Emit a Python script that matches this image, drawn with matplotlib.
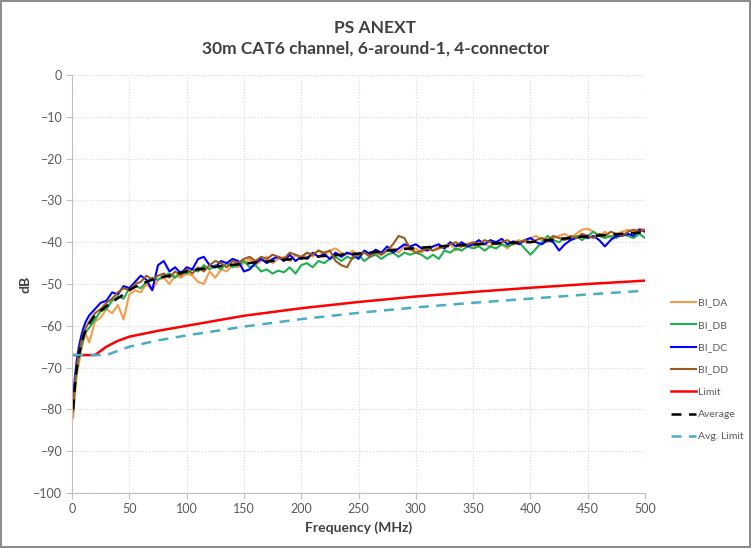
import numpy as np
import matplotlib.pyplot as plt

plt.rcParams['font.family'] = ['Lato', 'DejaVu Sans']

# frequency points (MHz)
freq = [1, 2, 3, 4, 6, 8, 10, 12, 15] + list(range(20, 501, 5))

bi_da = [-82, -78, -75, -72, -69, -66, -63.5, -62, -64, -59, -58, -56, -57, -55, -58.5, -52.5,
         -51.5, -52, -50, -51.5, -49, -48.5, -50, -48, -48.5, -47.5, -48, -49.5, -50, -47,
         -48.5, -46.5, -47, -45.5, -46, -45, -44, -45.5, -44.5, -43.5, -45, -44, -43.5, -44.5,
         -43, -44, -42.5, -43.5, -42, -43, -42, -41.5, -42.5, -43, -42, -43.5, -42.5, -43, -42,
         -43, -42, -41.5, -42.5, -41, -42, -41.5, -42.5, -41.5, -42, -41, -41.5, -40.5, -42,
         -41, -40.5, -41, -40, -40.5, -41, -40, -40.5, -41.5, -40, -39.5, -40, -39, -38.5,
         -39.5, -40, -39, -38.5, -38, -39, -38, -37, -36.8, -37.5, -38.5, -37.5, -39, -38,
         -37.5, -37, -37.5, -36.8, -37]

bi_db = [-80, -76.5, -73.5, -71, -67.5, -65, -63, -61.5, -60.5, -58.5, -56.5, -56, -54, -53,
         -53.5, -51, -50.5, -51, -49.5, -48.5, -49, -48, -47.5, -48.5, -47, -47.5, -46.5, -47,
         -45.5, -46.5, -45.5, -46.5, -45, -46, -45.5, -44.5, -46, -45.5, -47, -46.5, -47.5,
         -46.8, -47.2, -46, -47.5, -45.5, -45, -46, -44.5, -45, -44, -43.5, -44.5, -43.5, -44,
         -43, -44.5, -43.5, -43, -44, -43, -42.5, -43.5, -42.5, -43, -42.5, -43, -44, -43, -44,
         -42, -42.5, -41.5, -42, -41, -41.5, -41, -42, -41, -41.5, -40.5, -41, -40.5, -40,
         -41.5, -43, -41.5, -40, -38.5, -39.5, -40, -39, -39.5, -38.5, -39.5, -38.5, -37.5,
         -38.5, -39, -38.5, -39, -38, -38.5, -39, -38, -39]

bi_dc = [-78, -74, -71, -68.5, -65, -62.5, -60.5, -59, -57.5, -56, -54.5, -54, -52, -52.5,
         -50.5, -51, -49.5, -48, -49, -51.5, -45.5, -44.5, -47, -46, -47.5, -46, -46.5, -44,
         -43.5, -45.5, -46, -44.5, -45, -44, -44.5, -47, -46.5, -45, -44, -45, -44, -43.5,
         -44.5, -43, -44.5, -43.5, -44, -42.5, -43.5, -42.8, -44, -42.5, -43.5, -42.5, -43,
         -44, -42, -42.8, -41.8, -42.5, -41, -42.5, -41.5, -40.5, -41, -40.5, -41.5, -42, -41,
         -40.5, -41.5, -40, -41, -40, -41, -40.5, -39.5, -40.5, -39.5, -40, -39.2, -40.5,
         -39.8, -40.5, -39.5, -39, -40, -40.5, -39.5, -40, -42, -40.5, -39.5, -39, -38.5, -39,
         -38.5, -39.5, -41, -39.5, -38.5, -38.5, -38, -38.5, -37, -37.5]

bi_dd = [-80.5, -76, -72.5, -70, -66.5, -64, -62, -60.5, -59, -57, -56, -54.5, -53.5, -52,
         -51, -51.5, -50, -49.5, -48, -49, -48, -47.5, -48.5, -47, -48, -46.5, -47.5, -46,
         -47, -45.5, -44.5, -45, -46, -44.5, -45, -44, -43.5, -44.5, -43.5, -44, -43, -43.5,
         -44, -42.5, -43, -43.5, -42.5, -43, -42, -42.5, -42, -44.5, -45.5, -46, -43.5, -43,
         -42.5, -43.5, -42.5, -43, -42, -40.5, -38.5, -39, -41.5, -42.5, -42, -41.5, -42,
         -41.5, -41, -40.5, -40, -41, -40.5, -40, -40.5, -39.5, -40, -40.5, -40, -39.5, -40.5,
         -40, -39.5, -40, -39.5, -39, -39.5, -38.5, -39, -39.5, -38.5, -39, -38, -38.5, -39,
         -38, -38.5, -37.5, -38, -38.5, -37.5, -37, -37.5, -37]

average = [-80, -76, -73, -70.5, -67, -64.5, -62.5, -61, -59.5, -57.5, -56.4, -55.3, -54.3,
           -53.4, -52.5, -51.5, -50.7, -50.0, -49.5, -49.0, -48.6, -48.3, -48.0, -47.7, -47.3,
           -47.0, -46.7, -46.5, -46.3, -46.1, -45.9, -45.7, -45.5, -45.4, -45.3, -45.1, -45.0,
           -44.8, -44.7, -44.6, -44.5, -44.4, -44.2, -44.1, -44.0, -43.9, -43.7, -43.6, -43.4,
           -43.3, -43.2, -43.1, -43.0, -42.9, -42.8, -42.7, -42.6, -42.5, -42.3, -42.2, -42.0,
           -41.9, -41.7, -41.6, -41.5, -41.4, -41.3, -41.2, -41.1, -41.0, -40.9, -40.9, -40.8,
           -40.7, -40.6, -40.6, -40.5, -40.4, -40.3, -40.3, -40.2, -40.2, -40.1, -40.1, -40.0,
           -40.0, -39.8, -39.7, -39.5, -39.4, -39.2, -39.1, -39.0, -38.8, -38.7, -38.6, -38.5,
           -38.4, -38.3, -38.2, -38.1, -38.0, -37.9, -37.8, -37.7, -37.6]

# limit lines
lim_freq = [1, 20, 30, 40, 50, 75, 100, 150, 200, 250, 300, 350, 400, 450, 500]
limit = [-67, -67, -65.0, -63.6, -62.6, -61.2, -60.0, -57.6, -55.8, -54.3, -53.0, -51.9,
         -50.9, -50.0, -49.2]
avg_lim_freq = [1, 30, 40, 50, 75, 100, 150, 200, 250, 300, 350, 400, 450, 500]
avg_limit = [-67, -67, -66.0, -65.0, -63.5, -62.3, -60.2, -58.4, -56.9, -55.6, -54.5, -53.5,
             -52.5, -51.6]

fig = plt.figure(figsize=(7.51, 5.48), dpi=100)
fig.patch.set_edgecolor('#8c8c8c')
fig.patch.set_linewidth(1.5)
ax = fig.add_axes([0.0959, 0.1004, 0.763, 0.7627])

ax.plot(freq, bi_da, color='#F79A4A', lw=1.5, label='BI_DA')
ax.plot(freq, bi_db, color='#1FB04E', lw=1.5, label='BI_DB')
ax.plot(freq, bi_dc, color='#0000FF', lw=1.5, label='BI_DC')
ax.plot(freq, bi_dd, color='#9C5B1E', lw=1.5, label='BI_DD')
ax.plot(lim_freq, limit, color='#FF0000', lw=1.8, label='Limit')
ax.plot(freq, average, color='black', lw=1.8, dashes=(4, 3), label='Average')
ax.plot(avg_lim_freq, avg_limit, color='#4BACC6', lw=1.8, dashes=(4, 3), label='Avg. Limit')

ax.set_xlim(0, 500)
ax.set_ylim(-100, 0)
ax.set_xticks(np.arange(0, 501, 50))
ax.set_yticks(np.arange(-100, 1, 10))
ax.grid(True, color='#d9d9d9', linestyle=':', lw=0.8)
for s in ['top', 'right']:
    ax.spines[s].set_visible(False)
for s in ['left', 'bottom']:
    ax.spines[s].set_color('#bfbfbf')
ax.tick_params(colors='#bfbfbf', labelcolor='#595959', labelsize=9, length=4)

ax.set_xlabel('Frequency (MHz)', fontsize=10, fontweight='bold', color='#404040')
ax.set_ylabel('dB', fontsize=10, fontweight='bold', color='#404040')
ax.yaxis.set_label_coords(-0.07, 0.5)
fig.text(0.5, 0.948, 'PS ANEXT', ha='center', va='center', fontsize=12.5,
         fontweight='bold', color='#404040')
fig.text(0.5, 0.911, '30m CAT6 channel, 6-around-1, 4-connector', ha='center',
         va='center', fontsize=12.5, fontweight='bold', color='#404040')

ax.legend(loc='center left', bbox_to_anchor=(0.893, 0.325), bbox_transform=fig.transFigure,
          frameon=False, fontsize=7.5, labelspacing=1.25, handlelength=2.4,
          handletextpad=0.2, borderpad=0, borderaxespad=0, labelcolor='#595959')

fig.savefig('out.png', dpi=100)
